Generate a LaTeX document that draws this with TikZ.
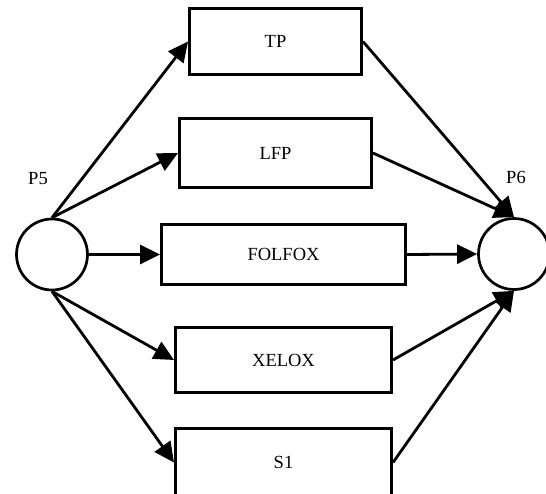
\documentclass[tikz,border=0pt]{standalone}
\usepackage{fontspec}
\setmainfont{Liberation Serif}
\usetikzlibrary{arrows.meta}
\begin{document}
\begin{tikzpicture}[x=1pt,y=-1pt,
  place/.style={circle,draw,line width=2.7pt,minimum size=71pt,inner sep=0pt},
  trans/.style={rectangle,draw,line width=3pt,inner sep=0pt,font=\fontsize{18.5}{20}\selectfont},
  lbl/.style={font=\fontsize{18.5}{20}\selectfont,inner sep=0pt},
  flow/.style={line width=2.8pt,-{Triangle[length=20pt,width=19pt]}}]
\clip (0,0) rectangle (546,493);
\fill[white] (0,0) rectangle (546,493);
% places
\node[place] (p5) at (52,254.5) {};
\node[place] (p6) at (514,254) {};
\node[lbl] (l5) at (38,179) {P5};
\node[lbl] (l6) at (516,177) {P6};
% transitions
\node[trans,minimum width=172pt,minimum height=66pt] (tp) at (275.5,41.5) {TP};
\node[trans,minimum width=192pt,minimum height=69pt] (lfp) at (275.5,153) {LFP};
\node[trans,minimum width=244pt,minimum height=60pt] (folfox) at (283.5,254.5) {FOLFOX};
\node[trans,minimum width=216pt,minimum height=65pt] (xelox) at (283.5,360) {XELOX};
\node[trans,minimum width=216pt,minimum height=68pt] (s1) at (283.5,462.5) {S1};
% arcs from P5
\draw[flow] (p5.north) -- (tp.west);
\draw[flow] (p5.north) -- (lfp.west);
\draw[flow] (p5.east) -- (folfox.west);
\draw[flow] (p5.south) -- (xelox.west);
\draw[flow] (p5.south) -- (s1.west);
% arcs into P6
\draw[flow] (tp.east) -- (p6.north);
\draw[flow] (lfp.east) -- (p6.north);
\draw[flow] (folfox.east) -- (p6.west);
\draw[flow] (xelox.east) -- (p6.south);
\draw[flow] (s1.east) -- (p6.south);
\end{tikzpicture}
\end{document}
